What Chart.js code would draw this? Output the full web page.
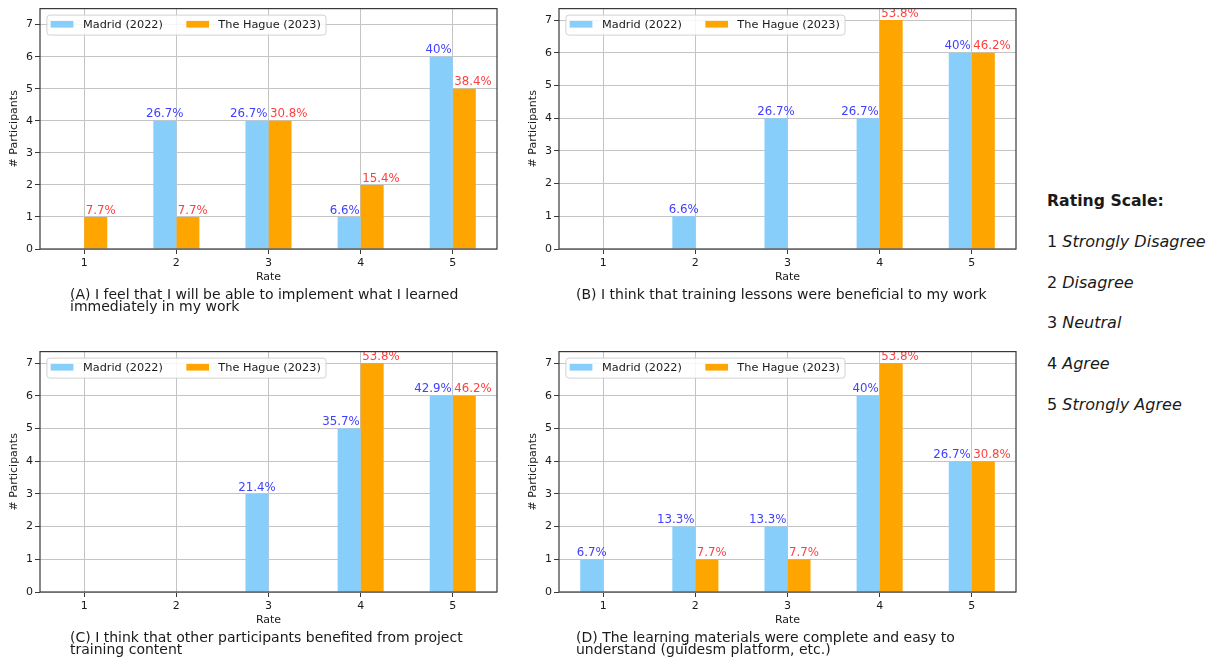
<!DOCTYPE html>
<html><head><meta charset="utf-8">
<script src="https://cdn.jsdelivr.net/npm/chart.js@4"></script>
<style>
body{margin:0;background:#fff;width:1213px;height:659px;overflow:hidden;position:relative;font-family:"DejaVu Sans",sans-serif;}
canvas{position:absolute;}
.cap{position:absolute;font-size:14px;line-height:12.6px;color:#1a1a1a;white-space:pre;z-index:2;}
#scale{position:absolute;left:1047px;top:181px;font-size:16px;line-height:40.8px;color:#1a1a1a;white-space:pre;}
#scale b{font-size:15.7px;}
</style>
</head><body>
<canvas id="cA" width="520" height="290" style="left:0px;top:0px"></canvas>
<canvas id="cB" width="520" height="290" style="left:519px;top:0px"></canvas>
<canvas id="cC" width="520" height="290" style="left:0px;top:343px"></canvas>
<canvas id="cD" width="520" height="290" style="left:519px;top:343px"></canvas>
<div class="cap" id="capA" style="left:70px;top:287.5px"></div>
<div class="cap" id="capB" style="left:576px;top:287.5px"></div>
<div class="cap" id="capC" style="left:70px;top:630.5px"></div>
<div class="cap" id="capD" style="left:576px;top:630.5px"></div>
<div id="scale"></div>
<script>
// ---- data ----
const rates = [1, 2, 3, 4, 5];
const seriesNames = ['Madrid (2022)', 'The Hague (2023)'];

const madridA = [0, 4, 4, 1, 6];
const hagueA  = [1, 1, 4, 2, 5];
const madridPctA = ['', '26.7%', '26.7%', '6.6%', '40%'];
const haguePctA  = ['7.7%', '7.7%', '30.8%', '15.4%', '38.4%'];

const madridB = [0, 1, 4, 4, 6];
const hagueB  = [0, 0, 0, 7, 6];
const madridPctB = ['', '6.6%', '26.7%', '26.7%', '40%'];
const haguePctB  = ['', '', '', '53.8%', '46.2%'];

const madridC = [0, 0, 3, 5, 6];
const hagueC  = [0, 0, 0, 7, 6];
const madridPctC = ['', '', '21.4%', '35.7%', '42.9%'];
const haguePctC  = ['', '', '', '53.8%', '46.2%'];

const madridD = [1, 2, 2, 6, 4];
const hagueD  = [0, 1, 1, 7, 4];
const madridPctD = ['6.7%', '13.3%', '13.3%', '40%', '26.7%'];
const haguePctD  = ['', '7.7%', '7.7%', '53.8%', '30.8%'];

const captionA = '(A) I feel that I will be able to implement what I learned\nimmediately in my work';
const captionB = '(B) I think that training lessons were beneficial to my work';
const captionC = '(C) I think that other participants benefited from project\ntraining content';
const captionD = '(D) The learning materials were complete and easy to\nunderstand (guidesm platform, etc.)';

const scaleTitle = 'Rating Scale:';
const scaleNumbers = ['1', '2', '3', '4', '5'];
const scaleWords = ['Strongly Disagree', 'Disagree', 'Neutral', 'Agree', 'Strongly Agree'];

const yAxisTitle = '# Participants';
const xAxisTitle = 'Rate';

// ---- styling ----
const FONT = 'DejaVu Sans';
const TXT = '#1a1a1a';
const BLUE = '#87CEFA', ORANGE = '#FFA500';
const BLUE_TXT = '#4040ff', RED_TXT = '#ff4040';
const GRID = '#c4c4c4', SPINE = '#3a3a3a';

const overlayPlugin = {
  id: 'overlay',
  afterDraw(chart) {
    const ctx = chart.ctx, a = chart.chartArea, o = chart.options.plugins.overlay;
    const xs = chart.scales.x;
    // bar value labels
    ctx.save();
    ctx.font = '11.8px "' + FONT + '"';
    ctx.textBaseline = 'alphabetic';
    const m0 = chart.getDatasetMeta(0), m1 = chart.getDatasetMeta(1);
    rates.forEach((r, j) => {
      const boundary = xs.getPixelForValue(r);
      const mv = o.madrid[j], hv = o.hague[j];
      if (o.madridPct[j]) {
        const el = m0.data[j];
        ctx.fillStyle = BLUE_TXT;
        if (hv > 0 && hv >= mv - 1) { ctx.textAlign = 'right'; ctx.fillText(o.madridPct[j], boundary - 1, el.y - 3.3); }
        else { ctx.textAlign = 'center'; ctx.fillText(o.madridPct[j], el.x, el.y - 3.3); }
      }
      if (o.haguePct[j]) {
        const el = m1.data[j];
        ctx.fillStyle = RED_TXT;
        ctx.textAlign = 'left';
        ctx.fillText(o.haguePct[j], boundary + 1.5, el.y - 3.3);
      }
    });
    // frame (spines)
    ctx.strokeStyle = SPINE; ctx.lineWidth = 1.2;
    ctx.strokeRect(a.left, a.top, a.right - a.left, a.bottom - a.top);
    // legend
    ctx.font = '11.3px "' + FONT + '"';
    const w1 = ctx.measureText(seriesNames[0]).width, w2 = ctx.measureText(seriesNames[1]).width;
    const bx = a.left + 6.4, by = a.top + 6, bh = 20;
    const bw = 4.3 + 22.7 + 9.6 + w1 + 23.4 + 22.7 + 9.3 + w2 + 4.7;
    ctx.beginPath();
    ctx.roundRect(bx + 0.5, by + 0.5, bw, bh, 3);
    ctx.fillStyle = 'rgba(255,255,255,0.85)'; ctx.fill();
    ctx.strokeStyle = '#d2d2d2'; ctx.lineWidth = 1; ctx.stroke();
    let x = bx + 4.3;
    ctx.fillStyle = BLUE; ctx.fillRect(x, by + 6.3, 22.7, 6.7);
    x += 22.7 + 9.6;
    ctx.fillStyle = TXT; ctx.textAlign = 'left'; ctx.textBaseline = 'middle';
    ctx.fillText(seriesNames[0], x, by + bh / 2 + 0.5);
    x += w1 + 23.4;
    ctx.fillStyle = ORANGE; ctx.fillRect(x, by + 6.3, 22.7, 6.7);
    x += 22.7 + 9.3;
    ctx.fillStyle = TXT; ctx.fillText(seriesNames[1], x, by + bh / 2 + 0.5);
    ctx.restore();
  }
};

function makeChart(id, madrid, hague, madridPct, haguePct, yMax) {
  return new Chart(document.getElementById(id), {
    type: 'bar',
    data: {
      datasets: [
        { label: seriesNames[0], data: rates.map((r, i) => ({ x: r, y: madrid[i] })), backgroundColor: BLUE,
          borderWidth: 0, barPercentage: 1, categoryPercentage: 0.5 },
        { label: seriesNames[1], data: rates.map((r, i) => ({ x: r, y: hague[i] })), backgroundColor: ORANGE,
          borderWidth: 0, barPercentage: 1, categoryPercentage: 0.5 }
      ]
    },
    options: {
      responsive: false, animation: false,
      layout: { padding: { left: 0, top: 7, right: 23, bottom: 0 } },
      plugins: { legend: { display: false }, tooltip: { enabled: false },
        overlay: { madrid, hague, madridPct, haguePct } },
      scales: {
        x: {
          type: 'linear', min: 0.52, max: 5.48, offset: false,
          ticks: { stepSize: 1, includeBounds: false, padding: 3, color: TXT, font: { family: FONT, size: 11 } },
          grid: { offset: false, color: GRID, lineWidth: 1, tickColor: SPINE, tickLength: 5 },
          border: { display: false },
          title: { display: true, text: xAxisTitle, color: TXT, font: { family: FONT, size: 11 }, padding: { top: 0, bottom: 6 } },
          afterFit(s) { s.height = 41; }
        },
        y: {
          min: 0, max: yMax,
          ticks: { stepSize: 1, includeBounds: false, padding: 2, color: TXT, font: { family: FONT, size: 11 } },
          grid: { color: GRID, lineWidth: 1, tickColor: SPINE, tickLength: 5 },
          border: { display: false },
          title: { display: true, text: yAxisTitle, color: TXT, font: { family: FONT, size: 11 }, padding: { top: 8, bottom: 0 } },
          afterFit(s) { s.width = 40; }
        }
      }
    },
    plugins: [overlayPlugin]
  });
}

makeChart('cA', madridA, hagueA, madridPctA, haguePctA, 7.5);
makeChart('cB', madridB, hagueB, madridPctB, haguePctB, 7.35);
makeChart('cC', madridC, hagueC, madridPctC, haguePctC, 7.35);
makeChart('cD', madridD, hagueD, madridPctD, haguePctD, 7.35);

document.getElementById('capA').textContent = captionA;
document.getElementById('capB').textContent = captionB;
document.getElementById('capC').textContent = captionC;
document.getElementById('capD').textContent = captionD;

const sc = document.getElementById('scale');
const t = document.createElement('b'); t.textContent = scaleTitle; sc.appendChild(t);
scaleNumbers.forEach((n, i) => {
  sc.appendChild(document.createTextNode('\n' + n + ' '));
  const it = document.createElement('i'); it.textContent = scaleWords[i]; sc.appendChild(it);
});
</script>
</body></html>
